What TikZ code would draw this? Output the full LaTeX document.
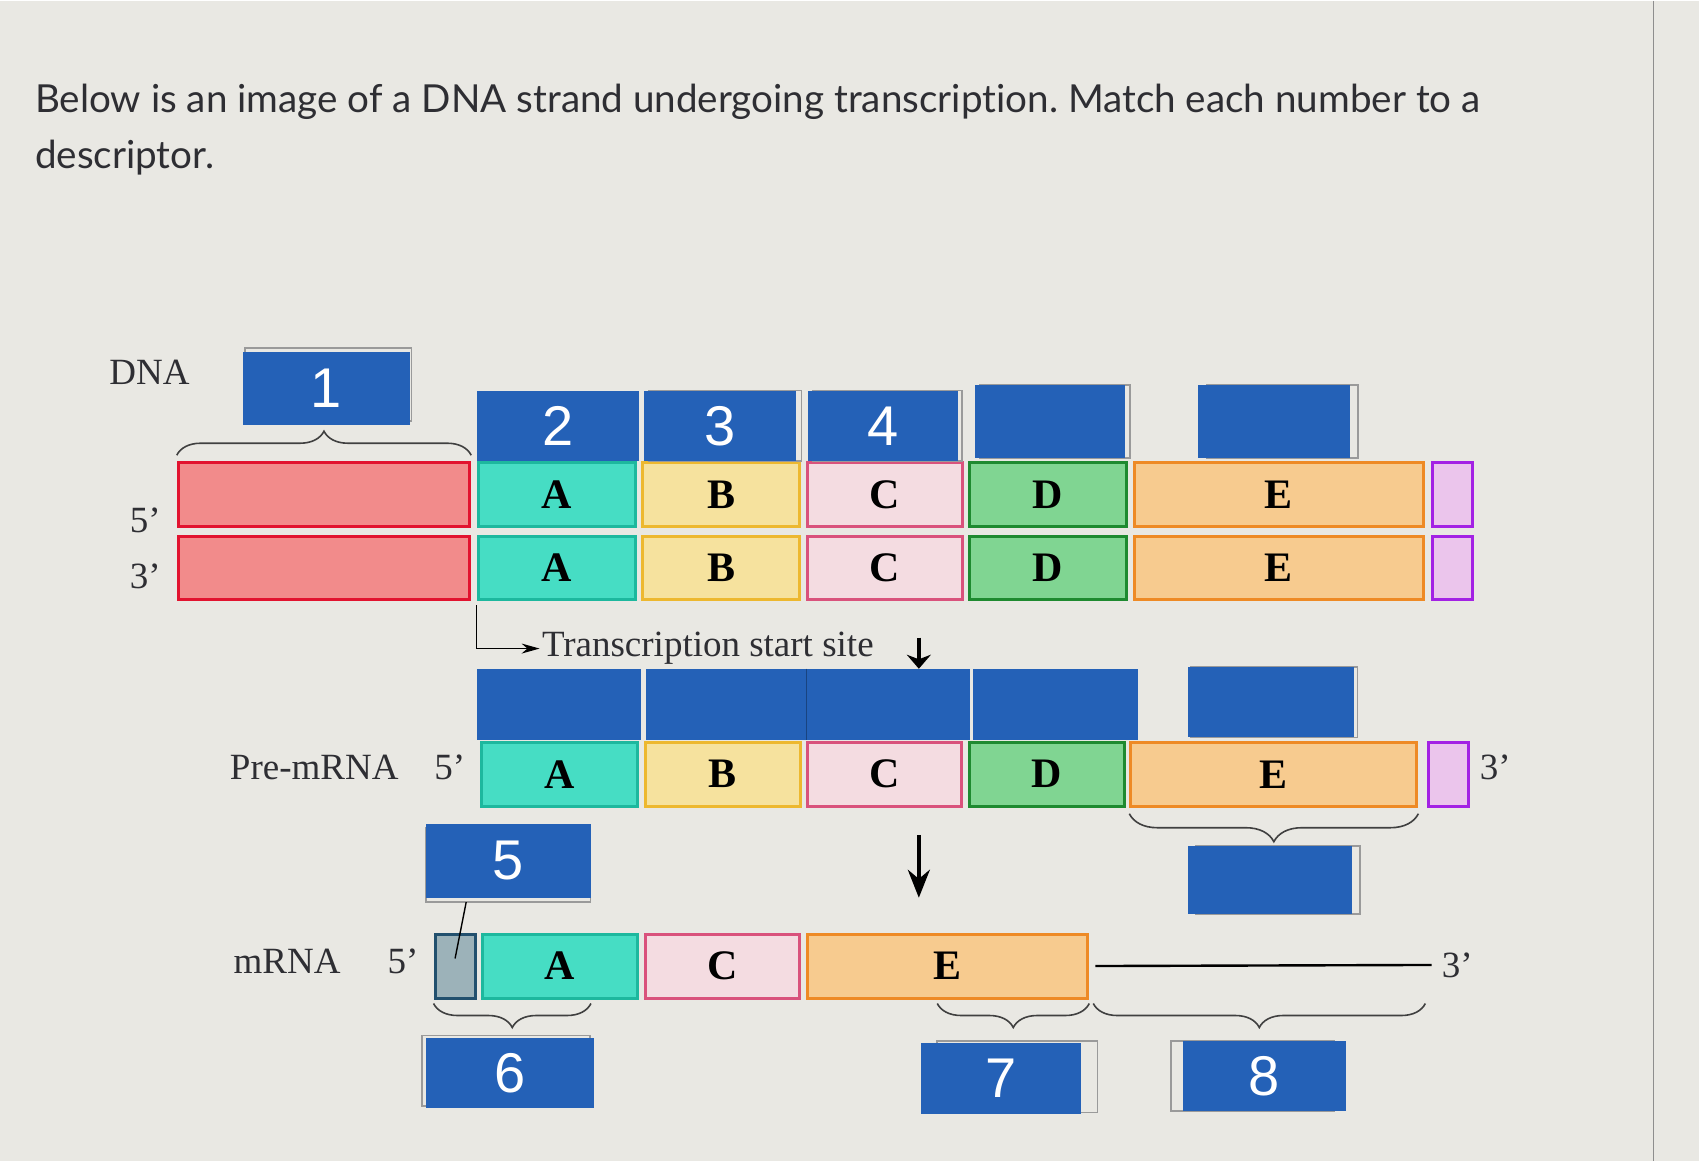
\documentclass[tikz,border=0pt]{standalone}
\usepackage{fontspec}
\setmainfont{Liberation Serif}
\newfontfamily\latofont{Lato}[Ligatures=NoCommon]
\newfontfamily\numfont{Liberation Sans}
\usetikzlibrary{positioning,arrows.meta,decorations.pathreplacing}
\definecolor{PageGrey}{HTML}{E9E8E3}
\definecolor{EdgeGrey}{HTML}{8E8E8E}
\definecolor{SlotBlue}{HTML}{2461B7}
\definecolor{SlotLine}{HTML}{9A9A9A}
\definecolor{InkText}{HTML}{2E2E33}
\definecolor{RedFill}{HTML}{F28B8B}
\definecolor{RedLine}{HTML}{E2132F}
\definecolor{TealFill}{HTML}{46DDC4}
\definecolor{TealLine}{HTML}{1DB89E}
\definecolor{YelFill}{HTML}{F6E29E}
\definecolor{YelLine}{HTML}{EDB82F}
\definecolor{PinkFill}{HTML}{F4DCE1}
\definecolor{PinkLine}{HTML}{D9527C}
\definecolor{GrnFill}{HTML}{80D592}
\definecolor{GrnLine}{HTML}{1E8A30}
\definecolor{OrgFill}{HTML}{F7CB8F}
\definecolor{OrgLine}{HTML}{EE8A25}
\definecolor{PurFill}{HTML}{EBC5EC}
\definecolor{PurLine}{HTML}{A322E4}
\definecolor{CapFill}{HTML}{9CB2B9}
\definecolor{CapLine}{HTML}{22506E}
\newcommand{\pxu}{0.5417pt}
\frenchspacing

\begin{document}
\begin{tikzpicture}[x=\pxu,y=-\pxu,>=stealth,node distance=2.2pt,
  frame/.style={preaction={draw=SlotLine,line width=.8pt,transform canvas={shift={(#1)}}}}]
  \tikzstyle{seg}=[draw,line width=1.5pt,inner sep=0pt,minimum height=59*\pxu,
    font=\fontsize{21}{22}\selectfont\bfseries]
  \tikzstyle{slot}=[fill=SlotBlue,text=white,inner sep=0pt,minimum height=65*\pxu,
    font=\numfont\fontsize{28}{30}\selectfont]
  \tikzstyle{lab}=[inner sep=1pt,text=InkText,font=\fontsize{18.5}{20}\selectfont]
  \tikzstyle{brc}=[decorate,decoration={brace,amplitude=12pt},line width=.8pt,draw=black!75]
  \fill[PageGrey] (0,0) rectangle (1568,1071);
  \draw[EdgeGrey,line width=.6pt] (1526,0) -- (1526,1071);

  \node[anchor=base west,inner sep=0pt,text=InkText,font=\latofont\fontsize{19.3}{22}\selectfont] (q1) at (32,103)
    {Below is an image of a DNA strand undergoing transcription. Match each number to a};
  \node[anchor=base west,inner sep=0pt,text=InkText,font=\latofont\fontsize{19.3}{22}\selectfont] (q2) at (32,155)
    {descriptor.};

  \node[seg,fill=RedFill,draw=RedLine,minimum width=269*\pxu] (r1) at (299,456) {};
  \node[seg,fill=TealFill,draw=TealLine,minimum width=145*\pxu,right=2.7pt of r1] (a1) {A};
  \node[seg,fill=YelFill,draw=YelLine,minimum width=145*\pxu,right=of a1] (b1) {B};
  \node[seg,fill=PinkFill,draw=PinkLine,minimum width=143*\pxu,right=of b1] (c1) {C};
  \node[seg,fill=GrnFill,draw=GrnLine,minimum width=145*\pxu,right=of c1] (d1) {D};
  \node[seg,fill=OrgFill,draw=OrgLine,minimum width=267*\pxu,right=of d1] (e1) {E};
  \node[seg,fill=PurFill,draw=PurLine,minimum width=37*\pxu,right=3.2pt of e1] (p1) {};

  \node[seg,fill=RedFill,draw=RedLine,minimum width=269*\pxu,below=3.2pt of r1] (r2) {};
  \node[seg,fill=TealFill,draw=TealLine,minimum width=145*\pxu,below=3.2pt of a1] (a2) {A};
  \node[seg,fill=YelFill,draw=YelLine,minimum width=145*\pxu,below=3.2pt of b1] (b2) {B};
  \node[seg,fill=PinkFill,draw=PinkLine,minimum width=143*\pxu,below=3.2pt of c1] (c2) {C};
  \node[seg,fill=GrnFill,draw=GrnLine,minimum width=145*\pxu,below=3.2pt of d1] (d2) {D};
  \node[seg,fill=OrgFill,draw=OrgLine,minimum width=267*\pxu,below=3.2pt of e1] (e2) {E};
  \node[seg,fill=PurFill,draw=PurLine,minimum width=37*\pxu,below=3.2pt of p1] (p2) {};

  \node[slot,frame={1pt,2pt},minimum width=154*\pxu,minimum height=67*\pxu] (n1) at (301,358) {1};
  \node[slot,minimum width=150*\pxu] (n2) at (515,392.5) {2};
  \node[slot,frame={2.5pt,0pt},minimum width=141*\pxu] (n3) at (664.5,392.5) {3};
  \node[slot,frame={2pt,0pt},minimum width=138*\pxu] (n4) at (815,392.5) {4};
  \node[slot,frame={2.5pt,0pt},minimum width=138*\pxu,minimum height=67*\pxu] (u1) at (969,388.5) {};
  \node[slot,frame={4pt,0pt},minimum width=140*\pxu,minimum height=67*\pxu] (u2) at (1176,388.5) {};

  \node[lab] (dna) at (138,343) {DNA};
  \node[lab] (f5) at (134,480) {5’};
  \node[lab] (f3) at (134,531) {3’};
  \node[lab,anchor=west] (tss) at (498,598) {Transcription start site};
  \draw[-{Stealth[length=9pt,width=5pt]},line width=.7pt] ([yshift=-2pt]a2.south west) |- (tss.west);

  \node[slot,minimum width=152*\pxu] (t1) at (516,649.5) {};
  \node[slot,minimum width=148*\pxu] (t2) at (670,649.5) {};
  \node[slot,minimum width=151*\pxu] (t3) at (819.5,649.5) {};
  \node[slot,minimum width=152*\pxu] (t4) at (974,649.5) {};
  \node[slot,frame={1.5pt,0pt},minimum width=154*\pxu] (t5) at (1173,647.5) {};
  \draw[SlotBlue!70!black,line width=.4pt] (t2.north east) -- (t2.south east);
  \coordinate (k1) at (848,588);
  \draw[-{Stealth[length=7pt,width=12pt]},line width=2.2pt] (k1) -- (k1 |- t3.north);

  \node[seg,fill=TealFill,draw=TealLine,minimum width=144*\pxu] (a3) at (516.5,714) {A};
  \node[seg,fill=YelFill,draw=YelLine,minimum width=143*\pxu,right=of a3] (b3) {B};
  \node[seg,fill=PinkFill,draw=PinkLine,minimum width=142*\pxu,right=of b3] (c3) {C};
  \node[seg,fill=GrnFill,draw=GrnLine,minimum width=143*\pxu,right=2.7pt of c3] (d3) {D};
  \node[seg,fill=OrgFill,draw=OrgLine,minimum width=264*\pxu,right=1.6pt of d3] (e3) {E};
  \node[seg,fill=PurFill,draw=PurLine,minimum width=37*\pxu,right=4.3pt of e3] (p3) {};
  \node[lab] (pre) at (290,708) {Pre-mRNA};
  \node[lab] (pre5) at (415,708) {5’};
  \node[lab] (pre3) at (1380,708) {3’};
  \draw[brc,decoration={brace,amplitude=14pt}] ([yshift=-3pt]e3.south east) -- ([yshift=-3pt]e3.south west);
  \node[slot,frame={4pt,0pt},minimum width=152*\pxu,minimum height=63*\pxu] (u3) at (1172,811.5) {};

  \node[slot,frame={0pt,-2pt},minimum width=152*\pxu,minimum height=68*\pxu] (n5) at (469,794) {5};
  \coordinate (k2) at (848,770);
  \coordinate (k3) at (848,828);
  \draw[-{Stealth[length=14pt,width=11pt]},line width=1.8pt] (k2) -- (k3);

  \node[seg,fill=CapFill,draw=CapLine,minimum width=37*\pxu] (cap) at (420,891) {};
  \node[seg,fill=TealFill,draw=TealLine,minimum width=143*\pxu,right=of cap] (a4) {A};
  \node[seg,fill=PinkFill,draw=PinkLine,minimum width=142*\pxu,right=2.7pt of a4] (c4) {C};
  \node[seg,fill=OrgFill,draw=OrgLine,minimum width=259*\pxu,right=of c4] (e4) {E};
  \node[lab] (mr) at (265,887) {mRNA};
  \node[lab] (mr5) at (372,887) {5’};
  \node[lab] (mr3) at (1345,890) {3’};
  \draw[line width=1.2pt] ([xshift=3pt]e4.east) -- ([xshift=-4pt]mr3.west);
  \draw[line width=.7pt] ([xshift=-21pt,yshift=-2pt]n5.south) -- ([yshift=3.8pt]cap.center);

  \draw[brc] ([yshift=3pt]r1.north west) -- ([yshift=3pt]r1.north east);
  \draw[brc] ([xshift=-24pt,yshift=-2pt]a4.south east) -- ([yshift=-2pt]cap.south west);
  \draw[brc] ([yshift=-2pt]e4.south east) -- ([xshift=-76pt,yshift=-2pt]e4.south east);
  \draw[brc] ([xshift=168pt,yshift=-2pt]e4.south east) -- ([xshift=2pt,yshift=-2pt]e4.south east);

  \node[slot,frame={-2pt,1pt},minimum width=155*\pxu] (n6) at (470.5,989.5) {6};
  \node[slot,frame={8pt,1pt},minimum width=148*\pxu,minimum height=66*\pxu] (n7) at (924,995) {7};
  \node[slot,frame={-6pt,0pt},minimum width=150*\pxu] (n8) at (1167,992.5) {8};
\end{tikzpicture}
\end{document}
